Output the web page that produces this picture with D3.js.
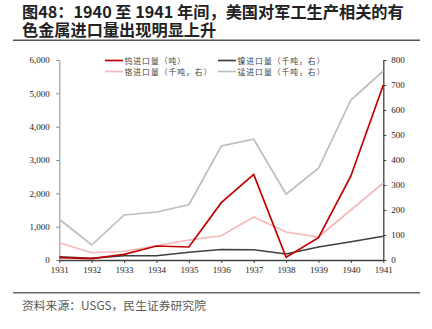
<!DOCTYPE html>
<html><head><meta charset="utf-8">
<script src="https://cdn.jsdelivr.net/npm/d3@7"></script>
<style>body{margin:0;background:#fff}svg{display:block}</style>
</head><body>
<script>
const years = [1931,1932,1933,1934,1935,1936,1937,1938,1939,1940,1941];
const tungsten = [70,40,170,420,390,1720,2570,80,670,2520,5250];      // 吨, left
const nickel = [13,7,17,17,31,42,41,24,52,73,95];                     // 千吨, right
const chromium = [69,29,35,57,80,97,172,112,92,200,308];              // 千吨, right
const manganese = [163,60,180,192,221,456,483,263,367,640,756];       // 千吨, right
const leftTicks = [0,1000,2000,3000,4000,5000,6000];
const rightTicks = [0,100,200,300,400,500,600,700,800];
const titleLines = ["图48：1940 至 1941 年间，美国对军工生产相关的有","色金属进口量出现明显上升"];
const sourceText = "资料来源：USGS，民生证券研究院";
const series = [
  {name:"钨进口量（吨）", values:tungsten, axis:"left", color:"#C00000"},
  {name:"镍进口量（千吨，右）", values:nickel, axis:"right", color:"#404040"},
  {name:"铬进口量（千吨，右）", values:chromium, axis:"right", color:"#F4B8B8"},
  {name:"锰进口量（千吨，右）", values:manganese, axis:"right", color:"#BDBDBD"}
];

const W=432,H=329;
const svg=d3.select("body").append("svg").attr("width",W).attr("height",H);
const cjk="'Noto Sans CJK SC','Noto Sans',sans-serif";
const serif="'Liberation Serif','Times New Roman',serif";

// title
svg.selectAll("text.title").data(titleLines).enter().append("text")
  .attr("x",22).attr("y",(d,i)=>17.5+i*18)
  .attr("font-family",cjk).attr("font-weight","bold").attr("font-size",16.2)
  .attr("fill","#222").text(d=>d);
svg.append("line").attr("x1",13).attr("x2",420).attr("y1",40.3).attr("y2",40.3)
  .attr("stroke","#555").attr("stroke-width",1.6);
svg.append("line").attr("x1",13).attr("x2",420).attr("y1",292.7).attr("y2",292.7)
  .attr("stroke","#666").attr("stroke-width",1.6);
svg.append("text").attr("x",22).attr("y",310).attr("font-family",cjk)
  .attr("font-size",11.8).attr("fill","#595959").text(sourceText);

const x=d3.scalePoint().domain(years).range([59.3,383.3]);
const yL=d3.scaleLinear().domain([0,6000]).range([260,60]);
const yR=d3.scaleLinear().domain([0,800]).range([260,60]);

// axes
const gL=svg.append("g").attr("transform","translate(59.3,0)")
  .call(d3.axisLeft(yL).tickValues(leftTicks).tickSize(3).tickSizeOuter(0).tickFormat(d3.format(",")));
gL.select(".domain").attr("stroke","#A6A6A6").attr("stroke-width",1.3);
gL.selectAll(".tick line").attr("stroke","#808080");
gL.selectAll("text").attr("font-family",serif).attr("font-size",9).attr("fill","#222").attr("x",-9.5);

const gR=svg.append("g").attr("transform","translate(383.3,0)")
  .call(d3.axisRight(yR).tickValues(rightTicks).tickSize(3).tickSizeOuter(0));
gR.select(".domain").attr("stroke","#404040").attr("stroke-width",1.3);
gR.selectAll(".tick line").attr("stroke","#404040");
gR.selectAll("text").attr("font-family",serif).attr("font-size",9).attr("fill","#222").attr("x",8);

const gX=svg.append("g").attr("transform","translate(0,260)")
  .call(d3.axisBottom(x).tickSize(3).tickSizeOuter(0));
gX.select(".domain").attr("stroke","#404040").attr("stroke-width",1.3);
gX.selectAll(".tick line").attr("stroke","#404040");
gX.selectAll("text").attr("font-family",serif).attr("font-size",9).attr("fill","#222").attr("y",7);

// lines (draw in order: manganese, chromium, nickel, tungsten on top)
const order=[3,2,1,0];
order.forEach(i=>{
  const s=series[i];
  const y=s.axis==="left"?yL:yR;
  const line=d3.line().x((d,j)=>x(years[j])).y(d=>y(d));
  svg.append("path").datum(s.values).attr("d",line).attr("fill","none")
    .attr("stroke",s.color).attr("stroke-width",1.7).attr("stroke-linejoin","miter");
});

// legend
const legPos=[[105,60.5],[218,60.5],[105,71.5],[218,71.5]];
series.forEach((s,i)=>{
  const [lx,ly]=legPos[i];
  svg.append("line").attr("x1",lx).attr("x2",lx+18).attr("y1",ly).attr("y2",ly)
    .attr("stroke",s.color).attr("stroke-width",1.7);
  svg.append("text").attr("x",lx+19.5).attr("y",ly+3).attr("font-family",cjk)
    .attr("font-size",7.8).attr("letter-spacing",1).attr("fill","#444").text(s.name);
});
</script>
</body></html>
